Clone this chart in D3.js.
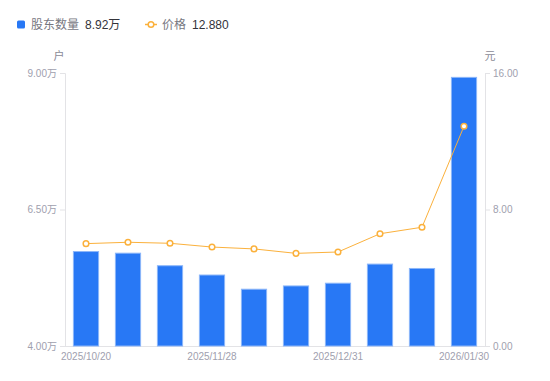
<!DOCTYPE html>
<html>
<head>
<meta charset="utf-8">
<script src="https://cdn.jsdelivr.net/npm/d3@7"></script>
<style>
  body { margin: 0; background: #fff; font-family: "Liberation Sans", "Noto Sans CJK SC", sans-serif; }
  svg text { font-family: "Liberation Sans", "Noto Sans CJK SC", sans-serif; }
  .axis text { fill: #a0a0ae; font-size: 10px; }
  .axis path, .axis line { stroke: #e3e3e6; }
</style>
</head>
<body>
<div id="chart"></div>
<script>
var dates = ["2025/10/20", "2025/10/31", "2025/11/20", "2025/11/28", "2025/12/10",
             "2025/12/19", "2025/12/31", "2026/01/09", "2026/01/20", "2026/01/30"];
var holders = [5.73, 5.70, 5.47, 5.30, 5.04, 5.10, 5.15, 5.50, 5.42, 8.92]; // 万户
var prices = [6.00, 6.08, 6.02, 5.80, 5.69, 5.43, 5.51, 6.58, 6.96, 12.88];
var leftTicks = [4, 6.5, 9];
var rightTicks = [0, 8, 16];
var shownDates = ["2025/10/20", "2025/11/28", "2025/12/31", "2026/01/30"];

var W = 550, H = 381,
    margin = { top: 73, right: 65, bottom: 35, left: 65 },
    width = W - margin.left - margin.right,
    height = H - margin.top - margin.bottom;

var svg = d3.select("#chart").append("svg")
    .attr("width", W)
    .attr("height", H);

var g = svg.append("g")
    .attr("transform", "translate(" + margin.left + "," + margin.top + ")");

var x = d3.scaleBand().domain(dates).range([0, width]).paddingInner(0.4).paddingOuter(0.2);
var y = d3.scaleLinear().domain([4, 9]).range([height, 0]);
var y2 = d3.scaleLinear().domain([0, 16]).range([height, 0]);

// axes
g.append("g")
    .attr("class", "axis")
    .call(d3.axisLeft(y).tickValues(leftTicks).tickSize(5).tickPadding(3)
        .tickFormat(function (d) { return d3.format(".2f")(d) + "万"; }));

g.append("g")
    .attr("class", "axis")
    .attr("transform", "translate(" + width + ",0)")
    .call(d3.axisRight(y2).tickValues(rightTicks).tickSize(5).tickPadding(3)
        .tickFormat(d3.format(".2f")));

var xAxis = g.append("g")
    .attr("class", "axis")
    .attr("transform", "translate(0," + height + ")")
    .call(d3.axisBottom(x).tickValues(shownDates).tickSize(0).tickPadding(7));
xAxis.select(".domain").attr("d", "M0,0.5H" + width);

g.selectAll(".axis .domain").attr("stroke", "#e3e3e6");

// units
g.append("text").attr("x", -6).attr("y", -13).attr("text-anchor", "middle")
    .style("font-size", "11px").style("fill", "#8a8a96").text("户");
g.append("text").attr("x", width + 5).attr("y", -13).attr("text-anchor", "middle")
    .style("font-size", "11px").style("fill", "#8a8a96").text("元");

// bars
g.selectAll(".bar")
    .data(holders)
    .enter().append("rect")
    .attr("class", "bar")
    .attr("x", function (d, i) { return x(dates[i]); })
    .attr("y", function (d) { return y(d); })
    .attr("width", x.bandwidth())
    .attr("height", function (d) { return height - y(d); })
    .attr("fill", "#2878f5")
    .attr("stroke", "#8cb6f9")
    .attr("stroke-width", 1);

// price line
var line = d3.line()
    .x(function (d, i) { return x(dates[i]) + x.bandwidth() / 2; })
    .y(function (d) { return y2(d); });

g.append("path")
    .datum(prices)
    .attr("fill", "none")
    .attr("stroke", "#fbb13c")
    .attr("stroke-width", 1)
    .attr("d", line);

g.selectAll(".dot")
    .data(prices)
    .enter().append("circle")
    .attr("class", "dot")
    .attr("cx", function (d, i) { return x(dates[i]) + x.bandwidth() / 2; })
    .attr("cy", function (d) { return y2(d); })
    .attr("r", 2.8)
    .attr("fill", "#fff")
    .attr("stroke", "#fbb13c")
    .attr("stroke-width", 1.5);

// legend
var legend = svg.append("g").style("font-size", "12px");
legend.append("rect").attr("x", 17).attr("y", 20.5).attr("width", 8).attr("height", 8)
    .attr("rx", 1.5).attr("fill", "#2878f5");
legend.append("text").attr("x", 31).attr("y", 29).style("fill", "#77777f").text("股东数量");
legend.append("text").attr("x", 85).attr("y", 29).style("fill", "#33333a")
    .text(d3.format(".2f")(holders[holders.length - 1]) + "万");

legend.append("line").attr("x1", 145).attr("x2", 157).attr("y1", 24.5).attr("y2", 24.5)
    .attr("stroke", "#fbb13c").attr("stroke-width", 1.5);
legend.append("circle").attr("cx", 151).attr("cy", 24.5).attr("r", 2.8)
    .attr("fill", "#fff").attr("stroke", "#fbb13c").attr("stroke-width", 1.5);
legend.append("text").attr("x", 162).attr("y", 29).style("fill", "#77777f").text("价格");
legend.append("text").attr("x", 192).attr("y", 29).style("fill", "#33333a")
    .text(d3.format(".3f")(prices[prices.length - 1]));
</script>
</body>
</html>
